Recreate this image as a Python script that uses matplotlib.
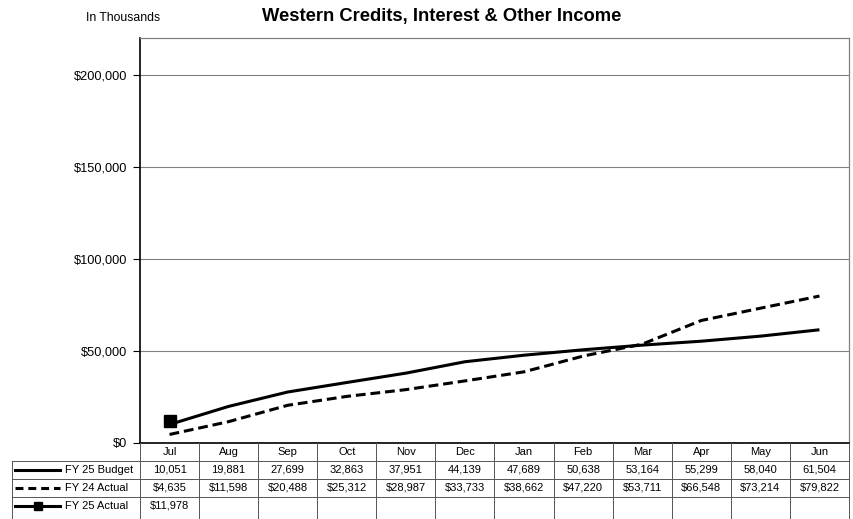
import matplotlib.pyplot as plt
from matplotlib.lines import Line2D

plt.rcParams['font.family'] = ['Liberation Sans', 'DejaVu Sans']

months = ["Jul", "Aug", "Sep", "Oct", "Nov", "Dec",
          "Jan", "Feb", "Mar", "Apr", "May", "Jun"]
budget_fy25 = [10051, 19881, 27699, 32863, 37951, 44139,
               47689, 50638, 53164, 55299, 58040, 61504]
actual_fy24 = [4635, 11598, 20488, 25312, 28987, 33733,
               38662, 47220, 53711, 66548, 73214, 79822]
actual_fy25 = [11978]

row_names = ["FY 25 Budget", "FY 24 Actual", "FY 25 Actual"]
row_text = [
    ["{:,}".format(v) for v in budget_fy25],
    ["${:,}".format(v) for v in actual_fy24],
    ["${:,}".format(v) for v in actual_fy25],
]

W, H = 854, 519
fig = plt.figure(figsize=(W / 100, H / 100), dpi=100)


def fx(px):
    return px / W


def fy(py):
    return 1 - py / H


# plot area in pixels
left, right, top, bottom = 140, 849, 38, 443
ax = fig.add_axes([fx(left), fy(bottom), fx(right - left), (bottom - top) / H])

x = range(len(months))
ax.plot(x, budget_fy25, color='k', lw=2.2, solid_capstyle='butt')
ax.plot(x, actual_fy24, color='k', lw=2.2, ls=(0, (3.2, 1.6)))
ax.plot(range(len(actual_fy25)), actual_fy25, color='k', lw=2.2,
        marker='s', ms=9)

ax.set_xlim(-0.5, len(months) - 0.5)
ax.set_ylim(0, 220000)
ax.set_yticks([0, 50000, 100000, 150000, 200000])
ax.set_yticklabels(["$0", "$50,000", "$100,000", "$150,000", "$200,000"])
ax.yaxis.grid(True, color='#808080', lw=0.8)
ax.set_axisbelow(True)
ax.set_xticks([])
ax.tick_params(axis='y', length=5, width=0.8, labelsize=9.2, pad=4)
for s in ax.spines.values():
    s.set_color('#808080')
    s.set_linewidth(0.9)
ax.spines['left'].set_color('k')
ax.spines['bottom'].set_color('k')
ax.spines['left'].set_linewidth(1.2)
ax.spines['bottom'].set_linewidth(1.2)

fig.text(fx(442), fy(17), "Western Credits, Interest & Other Income",
         ha='center', va='center', fontsize=13.2, fontweight='bold')
fig.text(fx(86), fy(18), "In Thousands", ha='left', va='center', fontsize=8.8)

# data table below the chart
col_w = (right - left) / len(months)
rows_y = [443, 461, 479, 497, 515]
grid_kw = dict(color='#555555', lw=0.7, transform=fig.transFigure)
tab_left = 12

# horizontal lines
for yp in rows_y[1:4]:
    fig.add_artist(Line2D([fx(tab_left), fx(right)], [fy(yp), fy(yp)], **grid_kw))
# vertical lines
fig.add_artist(Line2D([fx(tab_left), fx(tab_left)], [fy(461), fy(519)], **grid_kw))
for i in range(len(months) + 1):
    xp = left + i * col_w
    fig.add_artist(Line2D([fx(xp), fx(xp)], [fy(443), fy(519)], **grid_kw))

txt_kw = dict(ha='center', va='center', fontsize=8)
for i, m in enumerate(months):
    xc = left + (i + 0.5) * col_w
    fig.text(fx(xc), fy(452), m, **txt_kw)
for r, vals in enumerate(row_text):
    yc = (rows_y[r + 1] + rows_y[r + 2]) / 2
    for i, v in enumerate(vals):
        xc = left + (i + 0.5) * col_w
        fig.text(fx(xc), fy(yc), v, **txt_kw)

# legend keys in the table's first column
styles = [dict(ls='-'), dict(ls=(0, (2.6, 1.6))), dict(ls='-', marker='s')]
for r, name in enumerate(row_names):
    yc = (rows_y[r + 1] + rows_y[r + 2]) / 2
    st = styles[r]
    fig.add_artist(Line2D([fx(15), fx(60)], [fy(yc), fy(yc)], color='k', lw=2.2,
                          transform=fig.transFigure, ls=st['ls']))
    if 'marker' in st:
        fig.add_artist(Line2D([fx(38)], [fy(yc)], color='k', marker='s', ms=6,
                              transform=fig.transFigure))
    fig.text(fx(65), fy(yc), name, ha='left', va='center', fontsize=8)

fig.savefig("out.png", dpi=100)
